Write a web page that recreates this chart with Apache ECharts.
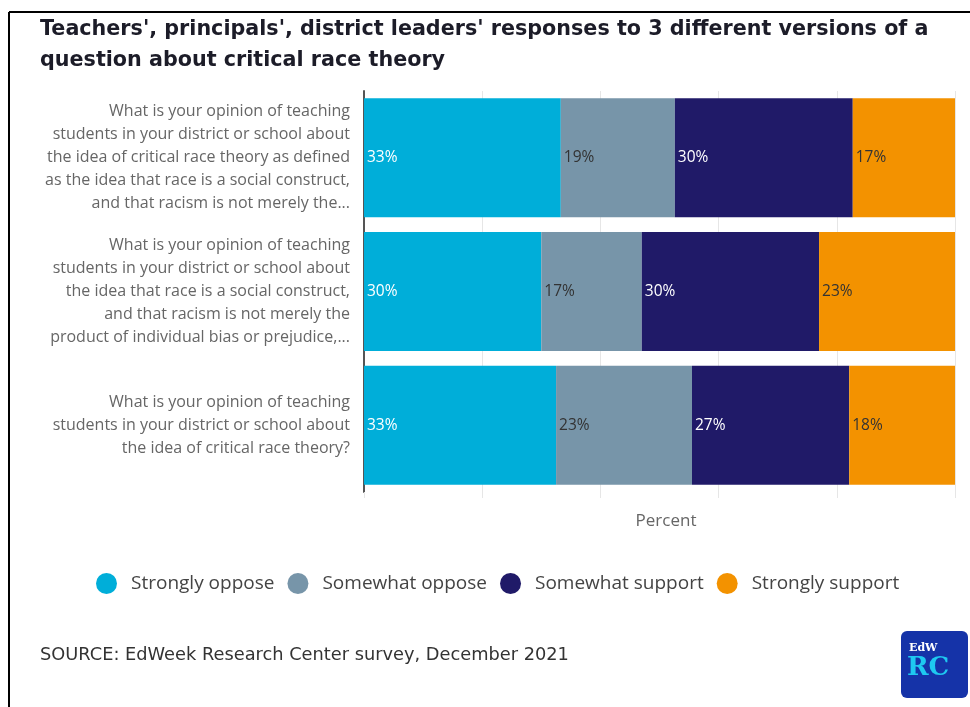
<!DOCTYPE html>
<html>
<head>
<meta charset="utf-8">
<script src="https://cdn.jsdelivr.net/npm/echarts@6/dist/echarts.min.js"></script>
<style>
html,body{margin:0;padding:0;background:#fff;}
#chart{width:970px;height:707px;}
</style>
</head>
<body>
<div id="chart"></div>
<script>
// Categories (question wording, as shown truncated in the chart)
var categories = [
  "What is your opinion of teaching\nstudents in your district or school about\nthe idea of critical race theory as defined\nas the idea that race is a social construct,\nand that racism is not merely the...",
  "What is your opinion of teaching\nstudents in your district or school about\nthe idea that race is a social construct,\nand that racism is not merely the\nproduct of individual bias or prejudice,...",
  "What is your opinion of teaching\nstudents in your district or school about\nthe idea of critical race theory?"
];
var seriesNames = ["Strongly oppose", "Somewhat oppose", "Somewhat support", "Strongly support"];
// Shares (percent of each bar)
var stronglyOppose  = [33.3, 30.0, 32.5];
var somewhatOppose  = [19.3, 17.0, 23.0];
var somewhatSupport = [30.1, 30.0, 26.6];
var stronglySupport = [17.3, 23.0, 17.9];
// Printed labels
var labelsStronglyOppose  = [33, 30, 33];
var labelsSomewhatOppose  = [19, 17, 23];
var labelsSomewhatSupport = [30, 30, 27];
var labelsStronglySupport = [17, 23, 18];
var xTicks = [0, 20, 40, 60, 80, 100];

var colors = ["#00aed9", "#7795a9", "#201a68", "#f39200"];
var labelColors = ["#ffffff", "#333333", "#ffffff", "#333333"];
var values = [stronglyOppose, somewhatOppose, somewhatSupport, stronglySupport];
var labels = [labelsStronglyOppose, labelsSomewhatOppose, labelsSomewhatSupport, labelsStronglySupport];

var chart = echarts.init(document.getElementById('chart'), null, {renderer: 'canvas'});

var series = seriesNames.map(function (name, i) {
  return {
    name: name,
    type: 'bar',
    stack: 'total',
    barCategoryGap: '11%',
    itemStyle: {color: colors[i]},
    label: {
      show: true,
      position: 'insideLeft',
      distance: 3,
      color: labelColors[i],
      fontFamily: 'Open Sans',
      fontSize: 15.5,
      formatter: function (p) { return labels[i][p.dataIndex] + '%'; }
    },
    emphasis: {disabled: true},
    data: values[i]
  };
});

chart.setOption({
  animation: false,
  title: {
    text: "Teachers', principals', district leaders' responses to 3 different versions of a\nquestion about critical race theory",
    left: 35,
    top: 9,
    textStyle: {
      fontFamily: 'DejaVu Sans',
      fontWeight: 'bold',
      fontSize: 20.7,
      lineHeight: 31,
      color: '#1c1c28'
    }
  },
  legend: {
    data: seriesNames,
    left: 91,
    top: 568,
    icon: 'circle',
    itemWidth: 21,
    itemHeight: 21,
    itemGap: 13,
    selectedMode: false,
    textStyle: {fontFamily: 'Open Sans', fontSize: 19, color: '#444444', padding: [0, 0, 0, 9]}
  },
  grid: {left: 364, right: 15, top: 91, bottom: 215, containLabel: false},
  xAxis: {
    type: 'value',
    min: 0,
    max: 100,
    interval: 20,
    name: 'Percent',
    nameLocation: 'middle',
    nameGap: 21,
    nameTextStyle: {fontFamily: 'Open Sans', fontSize: 17, color: '#666666', padding: [0, 0, 0, 13]},
    axisLabel: {show: false},
    axisLine: {show: false},
    axisTick: {show: true, length: 6, lineStyle: {color: '#e6e6e6'}},
    splitLine: {show: true, lineStyle: {color: '#e6e6e6', width: 1}}
  },
  yAxis: {
    type: 'category',
    data: categories,
    inverse: true,
    axisLine: {show: true, lineStyle: {color: '#555555', width: 2}},
    axisTick: {show: false},
    axisLabel: {
      margin: 14,
      fontFamily: 'Open Sans',
      fontSize: 16,
      lineHeight: 23,
      color: '#666666',
      align: 'right'
    }
  },
  series: series,
  graphic: [
    {type: 'line', shape: {x1: 9, y1: 12, x2: 970, y2: 12}, style: {stroke: '#000', lineWidth: 2}},
    {type: 'line', shape: {x1: 9, y1: 12, x2: 9, y2: 707}, style: {stroke: '#000', lineWidth: 2}},
    {type: 'text', left: 40, top: 646, style: {text: 'SOURCE: EdWeek Research Center survey, December 2021', fontFamily: 'DejaVu Sans', fontSize: 17.8, fill: '#333333'}},
    {type: 'rect', shape: {x: 901, y: 631, width: 67, height: 67, r: 6}, style: {fill: '#1533a8'}},
    {type: 'text', x: 909, y: 643, style: {text: 'EdW', fontFamily: 'DejaVu Serif', fontWeight: 'bold', fontSize: 11, fill: '#ffffff'}},
    {type: 'text', x: 907, y: 655, style: {text: 'RC', fontFamily: 'DejaVu Serif', fontWeight: 'bold', fontSize: 26, fill: '#1ec8f0'}}
  ]
});
</script>
</body>
</html>
